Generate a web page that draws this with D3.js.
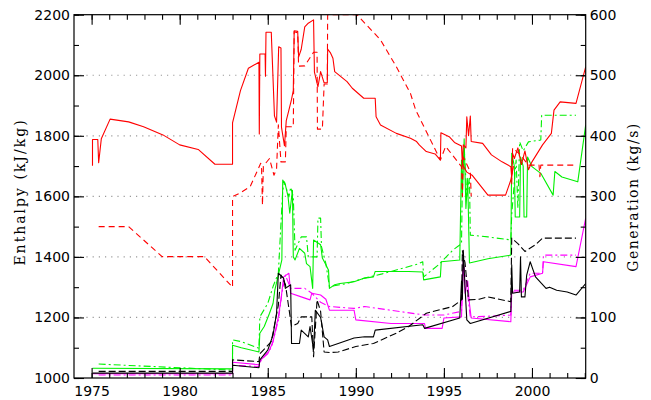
<!DOCTYPE html>
<html><head><meta charset="utf-8">
<script src="https://cdn.jsdelivr.net/npm/d3@7"></script>
<style>
html,body{margin:0;padding:0;background:#fff;}
</style></head>
<body><svg id="c" width="651" height="400"></svg>
<script>
// x: year, y: enthalpy (kJ/kg) for red, generation (kg/s) for others
const redSolid = [[1975.05,1701],[1975.05,1788],[1975.35,1788],[1975.4,1711],[1975.55,1790],[1976.05,1855],[1977.1,1846],[1977.95,1830],[1979.05,1803],[1980.0,1770],[1981.05,1755],[1982.0,1706],[1983.0,1706],[1983.0,1843],[1983.45,1949],[1983.9,2023],[1984.5,2043],[1984.52,1806],[1984.55,2070],[1984.85,2070],[1984.87,1997],[1984.9,2142],[1985.2,2142],[1985.22,2110],[1985.38,1866],[1985.5,1845],[1985.62,2094],[1985.75,2090],[1985.78,1828],[1985.95,1767],[1986.05,1850],[1986.2,1885],[1986.35,1920],[1986.45,1950],[1986.5,2147],[1986.7,2145],[1986.75,2060],[1986.9,2086],[1987.1,2160],[1987.3,2172],[1987.6,2183],[1987.65,2010],[1987.85,1962],[1988.0,2012],[1988.2,1975],[1988.38,1975],[1988.4,2086],[1988.55,2075],[1988.7,2056],[1988.8,2012],[1989.5,1979],[1989.8,1957],[1990.45,1924],[1991.1,1924],[1991.15,1863],[1991.4,1836],[1992.3,1808],[1993.1,1792],[1993.45,1781],[1993.6,1770],[1994.0,1748],[1994.5,1740],[1994.8,1720],[1994.83,1810],[1995.3,1797],[1995.6,1778],[1996.0,1766],[1996.05,1700],[1996.1,1770],[1996.25,1760],[1996.3,1863],[1996.4,1800],[1996.5,1865],[1996.55,1781],[1997.2,1775],[1997.7,1737],[1998.3,1714],[1998.8,1698],[1998.85,1660],[1998.9,1742],[1999.0,1725],[1999.2,1760],[1999.4,1705],[1999.6,1750],[1999.8,1688],[2000.0,1714],[2000.6,1770],[2001.1,1808],[2001.25,1885],[2001.6,1912],[2002.5,1907],[2003.05,2028]];
const redSolid2 = [[1996.1,1700],[1996.3,1680],[1996.6,1670],[1997.5,1604],[1998.5,1604],[1998.8,1654],[1998.95,1700]];
const redDashed = [[1975.4,1500],[1977.1,1500],[1979.0,1401],[1981.4,1401],[1983.0,1300],[1983.0,1599],[1983.4,1610],[1984.0,1632],[1984.6,1709],[1984.65,1690],[1984.7,1571],[1984.75,1700],[1985.1,1725],[1985.35,1670],[1985.5,1690],[1985.6,1836],[1985.75,1714],[1986.0,1714],[1986.05,1830],[1986.45,1830],[1986.5,2144],[1986.7,2140],[1986.75,2030],[1987.1,2031],[1987.6,2076],[1987.8,2076],[1987.82,1822],[1988.1,1822],[1988.2,1971],[1988.38,1971],[1988.4,2200],[1990.06,2200],[1991.4,2117],[1992.3,2028],[1993.1,1940],[1993.4,1885],[1994.8,1720],[1995.1,1765],[1996.0,1698],[1996.05,1600],[1996.1,1730],[1996.5,1681],[1996.55,1600],null,[1998.85,1640],[1998.9,1760],[1999.3,1740],[1999.8,1703],[2000.4,1703],[2000.45,1665],[2000.5,1703],[2002.5,1703]];
const greenSolid = [[1975.05,16],[1983.0,15],[1983.0,54],[1983.5,50],[1984.5,43],[1984.55,74],[1984.8,85],[1985.1,107],[1985.3,123],[1985.4,145],[1985.6,170],[1985.8,195],[1985.85,327],[1986.0,319],[1986.15,300],[1986.25,272],[1986.4,310],[1986.45,200],[1986.55,195],[1986.8,214],[1987.1,206],[1987.2,189],[1987.4,184],[1987.55,148],[1987.6,228],[1988.0,220],[1988.1,198],[1988.3,187],[1988.45,178],[1988.5,148],[1988.8,154],[1989.1,156],[1989.9,159],[1990.5,165],[1991.0,167],[1991.1,176],[1993.0,176],[1993.8,175],[1993.85,162],[1994.8,167],[1994.85,192],[1995.9,195],[1996.0,360],[1996.05,300],[1996.15,395],[1996.25,280],[1996.35,330],[1996.45,190],[1997.5,197],[1998.8,203],[1998.85,371],[1999.0,350],[1999.05,266],[1999.3,266],[1999.35,365],[1999.5,350],[1999.55,266],[1999.7,266],[1999.75,365],[2000.0,349],[2000.5,338],[2001.2,302],[2001.3,341],[2001.7,332],[2002.6,324],[2003.05,418]];
const greenDashed = [[1975.4,23],[1983.0,13],[1983.0,63],[1983.5,60],[1984.5,49],[1984.55,101],[1985.0,123],[1985.3,151],[1985.6,173],[1985.85,310],[1985.95,324],[1986.2,299],[1986.3,315],[1986.45,299],[1986.55,211],[1986.9,233],[1987.2,233],[1987.3,200],[1987.8,200],[1987.85,264],[1988.0,264],[1988.05,217],[1988.3,189],[1988.5,151],[1989.5,156],[1990.5,165],[1991.5,172],[1992.5,180],[1993.5,188],[1993.8,192],[1993.85,167],[1994.7,187],[1995.5,211],[1996.0,222],[1996.05,330],[1996.15,380],[1996.3,300],[1996.45,330],[1996.5,236],[1997.5,233],[1998.8,228],[1998.85,270],[1999.1,360],[1999.2,280],[1999.3,390],[1999.5,375],[1999.8,390],[2000.5,393],[2000.55,434],[2002.5,434]];
const magentaSolid = [[1975.05,7],[1983.0,7],[1983.0,26],[1984.5,22],[1984.6,30],[1985.0,40],[1985.3,60],[1985.6,101],[1985.75,129],[1985.9,167],[1986.2,173],[1986.3,140],[1986.9,134],[1987.4,129],[1987.5,140],[1988.0,137],[1988.3,130],[1988.5,112],[1989.9,112],[1990.0,96],[1992.0,90],[1993.9,90],[1993.95,82],[1994.9,82],[1995.0,99],[1996.0,101],[1996.1,195],[1996.2,140],[1996.35,160],[1996.45,123],[1996.55,99],[1998.8,93],[1998.85,142],[1999.5,142],[1999.9,167],[2000.6,173],[2000.65,192],[2002.5,184],[2003.05,264]];
const magentaDashed = [[1975.4,5],[1983.0,5],[1983.0,21],[1984.5,19],[1984.6,28],[1985.2,50],[1985.6,95],[1985.8,140],[1986.0,170],[1986.3,148],[1987.1,148],[1987.5,140],[1988.0,125],[1988.5,118],[1989.9,115],[1990.5,118],[1993.9,104],[1995.0,104],[1996.0,110],[1996.1,190],[1996.3,150],[1996.5,101],[1997.5,102],[1998.8,104],[1998.85,145],[1999.5,145],[1999.9,173],[2000.6,173],[2000.65,203],[2002.5,203]];
const blackSolid = [[1975.05,8],[1983.0,8],[1983.0,21],[1984.5,17],[1984.55,30],[1985.0,46],[1985.3,71],[1985.5,107],[1985.6,173],[1985.9,165],[1986.0,148],[1986.3,154],[1986.35,57],[1986.8,57],[1986.9,79],[1987.3,68],[1987.4,85],[1987.6,46],[1987.7,112],[1988.0,100],[1988.2,68],[1988.4,63],[1988.5,52],[1989.0,57],[1989.9,66],[1990.5,68],[1991.0,68],[1991.1,79],[1993.8,88],[1993.9,82],[1995.9,99],[1996.0,160],[1996.05,130],[1996.1,211],[1996.2,150],[1996.3,96],[1996.5,90],[1998.8,110],[1998.85,187],[1998.9,140],[1999.3,142],[1999.35,200],[1999.4,134],[1999.6,134],[1999.7,170],[1999.9,192],[2000.2,167],[2000.8,148],[2001.0,150],[2001.4,145],[2002.0,142],[2002.5,137],[2003.05,156]];
const blackDashed = [[1975.4,11],[1983.0,11],[1983.0,30],[1984.5,27],[1984.55,40],[1985.2,60],[1985.6,120],[1985.75,170],[1986.0,155],[1986.35,85],[1986.7,90],[1986.9,101],[1987.5,101],[1987.6,35],[1987.8,129],[1988.0,110],[1988.2,43],[1988.5,42],[1989.0,43],[1990.0,52],[1991.0,57],[1992.3,74],[1993.0,85],[1994.0,107],[1995.5,118],[1996.0,129],[1996.05,210],[1996.2,190],[1996.4,129],[1997.0,130],[1997.5,134],[1998.8,126],[1998.85,231],[1999.2,222],[1999.6,209],[2000.2,220],[2000.6,231],[2002.5,231]];

const xTicks = [1975,1980,1985,1990,1995,2000];
const yLeftTicks = [1000,1200,1400,1600,1800,2000,2200];
const yRightTicks = [0,100,200,300,400,500,600];
const gridValues = [1200,1400,1600,1800,2000];

const L=74, R=585.7, T=14.7, B=378;
const svg = d3.select("#c");
const x = d3.scaleLinear().domain([1974,2003.05]).range([L,R]);
const yL = d3.scaleLinear().domain([1000,2200]).range([B,T]);
const yR = d3.scaleLinear().domain([0,600]).range([B,T]);

svg.append("defs").append("clipPath").attr("id","clip")
  .append("rect").attr("x",L).attr("y",T).attr("width",R-L).attr("height",B-T);

// grid
svg.append("g").selectAll("line").data(gridValues).join("line")
  .attr("x1",L).attr("x2",R).attr("y1",d=>yL(d)).attr("y2",d=>yL(d))
  .attr("stroke","#999").attr("stroke-width",1.2).attr("stroke-dasharray","1.2,5");

const plot = svg.append("g").attr("clip-path","url(#clip)");
function draw(data, ys, color, dash){
  const line = d3.line().defined(d=>d!==null).x(d=>x(d[0])).y(d=>ys(d[1]));
  plot.append("path").attr("d",line(data)).attr("fill","none")
    .attr("stroke",color).attr("stroke-width",1.1)
    .attr("stroke-dasharray",dash||null).attr("stroke-linejoin","round");
}
const dd = "7,3,2,3";
draw(greenSolid,yR,"#00f000");
draw(greenDashed,yR,"#00f000",dd);
draw(magentaSolid,yR,"#ff00ff");
draw(magentaDashed,yR,"#ff00ff",dd);
draw(blackSolid,yR,"#000");
draw(blackDashed,yR,"#000","7,3");
draw(redSolid,yL,"#ff0000");
draw(redSolid2,yL,"#ff0000");
draw(redDashed,yL,"#ff0000","6,4");

const fs = "14px";
const tickFont = "'DejaVu Sans',Arial,sans-serif";
// frame
svg.append("rect").attr("x",L).attr("y",T).attr("width",R-L).attr("height",B-T)
  .attr("fill","none").attr("stroke","#000").attr("stroke-width",1.2);

function style(g){ g.select(".domain").remove(); g.selectAll("line").attr("stroke","#000").attr("stroke-width",1.1);
  g.selectAll("text").attr("font-size",fs).attr("fill","#000").attr("font-family",tickFont); }

const years = d3.range(1975,2004);
// bottom
svg.append("g").attr("transform",`translate(0,${B})`)
  .call(d3.axisBottom(x).tickValues(years).tickSize(-5).tickFormat(""))
  .call(style);
svg.append("g").attr("transform",`translate(0,${B})`)
  .call(d3.axisBottom(x).tickValues(xTicks).tickSize(-10).tickPadding(8).tickFormat(d3.format("d")))
  .call(style);
// top
svg.append("g").attr("transform",`translate(0,${T})`)
  .call(d3.axisTop(x).tickValues(years).tickSize(-5).tickFormat(""))
  .call(style);
svg.append("g").attr("transform",`translate(0,${T})`)
  .call(d3.axisTop(x).tickValues(xTicks).tickSize(-10).tickFormat(""))
  .call(style);
// left
svg.append("g").attr("transform",`translate(${L},0)`)
  .call(d3.axisLeft(yL).tickValues(d3.range(1000,2201,100)).tickSize(-5).tickFormat(""))
  .call(style);
svg.append("g").attr("transform",`translate(${L},0)`)
  .call(d3.axisLeft(yL).tickValues(yLeftTicks).tickSize(-10).tickPadding(4).tickFormat(d3.format("d")))
  .call(style);
// right
svg.append("g").attr("transform",`translate(${R},0)`)
  .call(d3.axisRight(yR).tickValues(d3.range(0,601,50)).tickSize(-5).tickFormat(""))
  .call(style);
svg.append("g").attr("transform",`translate(${R},0)`)
  .call(d3.axisRight(yR).tickValues(yRightTicks).tickSize(-10).tickPadding(4).tickFormat(d3.format("d")))
  .call(style);

// titles
const titleFont = "'DejaVu Serif','Liberation Serif',serif";
svg.append("text").attr("transform",`translate(25,192) rotate(-90)`)
  .attr("text-anchor","middle").attr("font-family",titleFont).attr("font-size","14px")
  .attr("letter-spacing","2px").text("Enthalpy (kJ/kg)");
svg.append("text").attr("transform",`translate(638,197) rotate(-90)`)
  .attr("text-anchor","middle").attr("font-family",titleFont).attr("font-size","14px")
  .attr("letter-spacing","1.5px").text("Generation (kg/s)");
</script></body></html>
